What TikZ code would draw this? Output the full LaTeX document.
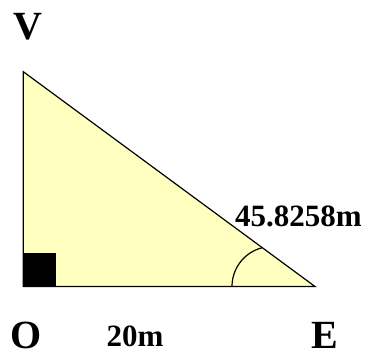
\documentclass[tikz,border=0pt]{standalone}
\usepackage{fontspec}
\setmainfont{Liberation Serif}
\usepackage{xcolor}
\usepackage{tikz}
\definecolor{paleyellow}{RGB}{255,255,192}

\begin{document}
\begin{tikzpicture}[x=1pt, y=-1pt, line width=1.2pt, every node/.style={inner sep=0pt, anchor=base west, font=\bfseries\fontsize{40}{40}\selectfont}, len/.style={font=\bfseries\fontsize{31}{31}\selectfont}]
\useasboundingbox (0,0) rectangle (369,352);
\coordinate (o) at (23.3,286.5);
\coordinate (v) at (23.3,71.7);
\coordinate (e) at (315,286.5);
\coordinate (a) at (232,286.5);
\draw[fill=paleyellow, line join=miter] (o) -- (v) -- (e) -- cycle;
\fill (o) rectangle (56,253);
\draw (a) arc[start angle=180, end angle=256, radius=40];
\node (vl) at (12.5,39.3) {V};
\node (ol) at (10.3,348) {O};
\node (el) at (311,348) {E};
\node[len] (base) at (106,346) {20m};
\node[len] (hyp) at (234.5,226.7) {45.8258m};
\end{tikzpicture}
\end{document}
